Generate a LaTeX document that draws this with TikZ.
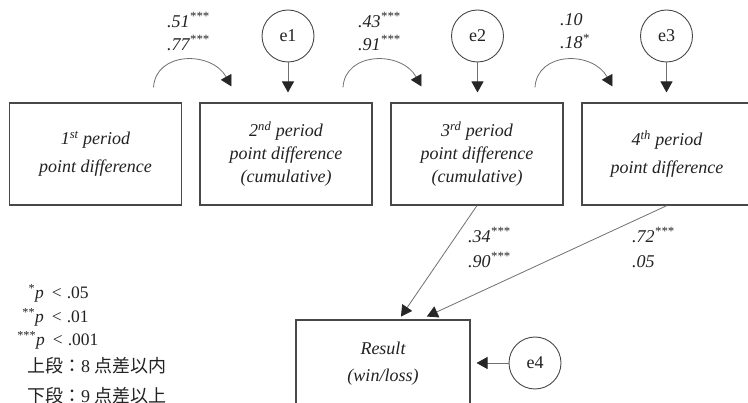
\documentclass[tikz,border=0pt]{standalone}
\usepackage{fontspec}
\setmainfont{Liberation Serif}
\newfontfamily\cjk{Noto Sans CJK JP}
\usetikzlibrary{arrows.meta,calc}
\definecolor{ln}{HTML}{484848}
\definecolor{tx}{HTML}{222222}
\definecolor{cn}{HTML}{707070}
\begin{document}
\begin{tikzpicture}[x=1pt,y=-1pt,
  box/.style={draw=ln,line width=1.1pt,minimum width=172pt,minimum height=102pt,inner sep=0pt,align=center,text=tx,font=\fontsize{18}{23}\selectfont\itshape},
  errc/.style={circle,draw=ln,line width=0.9pt,minimum size=52pt,inner sep=0pt,text=tx,font=\fontsize{18}{22}\selectfont},
  arr/.style={draw=cn,line width=0.8pt,-{Triangle[length=11pt,width=12pt,color=black!85]}},
  lab/.style={anchor=west,inner sep=0pt,align=left,text=tx,font=\fontsize{18}{23}\selectfont\itshape},
  leg/.style={anchor=base west,inner sep=0pt,text=tx,font=\fontsize{17.5}{20}\selectfont}]
\useasboundingbox (0,0) rectangle (748,403);
\clip (0,0) rectangle (748,403);
\fill[white] (0,0) rectangle (748,403);
% boxes
\node[box,font=\fontsize{18}{28}\selectfont\itshape] (b1) at (95.5,154) {1\textsuperscript{st} period\\point difference};
\node[box] (b2) at (286,154) {2\textsuperscript{nd} period\\point difference\\(cumulative)};
\node[box] (b3) at (477,154) {3\textsuperscript{rd} period\\point difference\\(cumulative)};
\node[box,minimum width=170pt,font=\fontsize{18}{28}\selectfont\itshape] (b4) at (667,154) {4\textsuperscript{th} period\\point difference};
\node[box,minimum width=174pt,minimum height=88pt,font=\fontsize{18}{27}\selectfont\itshape] (res) at (383,364) {Result\\(win/loss)};
% error terms
\node[errc] (e1) at (288,36) {e1};
\node[errc] (e2) at (477.5,36) {e2};
\node[errc] (e3) at (666.5,36) {e3};
\node[errc] (e4) at (535,363) {e4};
\draw[arr,shorten >=10pt] (e1) -- (e1 |- b2.north);
\draw[arr,shorten >=10pt] (e2) -- (e2 |- b3.north);
\draw[arr,shorten >=10pt] (e3) -- (e3 |- b4.north);
\draw[arr,shorten >=6pt] (e4) -- (e4 -| res.east);
% curved paths
\coordinate (a1s) at ([xshift=58pt,yshift=15pt]b1.north);
\coordinate (a1e) at ([xshift=32pt,yshift=16pt]b2.north west);
\coordinate (a2s) at ([xshift=57pt,yshift=15pt]b2.north);
\coordinate (a2e) at ([xshift=31pt,yshift=16pt]b3.north west);
\coordinate (a3s) at ([xshift=58pt,yshift=15pt]b3.north);
\coordinate (a3e) at ([xshift=31pt,yshift=16pt]b4.north west);
\draw[arr] (a1s) .. controls ($(a1s)+(2,-36)$) and ($(a1e)+(-20,-36)$) .. (a1e);
\draw[arr] (a2s) .. controls ($(a2s)+(2,-36)$) and ($(a2e)+(-20,-36)$) .. (a2e);
\draw[arr] (a3s) .. controls ($(a3s)+(2,-36)$) and ($(a3e)+(-20,-36)$) .. (a3e);
% paths to result
\draw[arr,shorten >=3.5pt] (b3.south) -- ([xshift=16pt]res.north);
\draw[arr,shorten >=7pt] (b4.south) -- ([xshift=37.5pt]res.north);
% coefficient labels
\node[lab] (l1) at (167,31.5) {.51\textsuperscript{***}\\.77\textsuperscript{***}};
\node[lab] (l2) at (358,31.5) {.43\textsuperscript{***}\\.91\textsuperscript{***}};
\node[lab] (l3) at (560,31.5) {.10\\.18\textsuperscript{*}};
\node[lab,font=\fontsize{18}{25}\selectfont\itshape] (l4) at (468,247.5) {.34\textsuperscript{***}\\.90\textsuperscript{***}};
\node[lab,font=\fontsize{18}{25}\selectfont\itshape] (l5) at (632,247.5) {.72\textsuperscript{***}\\.05};
% legend
\node[leg] (p1) at (35,299) {\llap{\textsuperscript{*}}\textit{p}\hspace{8pt}<\hspace{5pt}.05};
\node[leg] (p2) at (35,323) {\llap{\textsuperscript{**}}\textit{p}\hspace{8pt}<\hspace{5pt}.01};
\node[leg] (p3) at (36,346) {\llap{\textsuperscript{***}}\textit{p}\hspace{8pt}<\hspace{5pt}.001};
\node[leg,font=\fontsize{18}{20}\selectfont] (j1) at (27,373) {{\cjk 上段：}8 {\cjk 点差以内}};
\node[leg,font=\fontsize{18}{20}\selectfont] (j2) at (27,403) {{\cjk 下段：}9 {\cjk 点差以上}};
\end{tikzpicture}
\end{document}
